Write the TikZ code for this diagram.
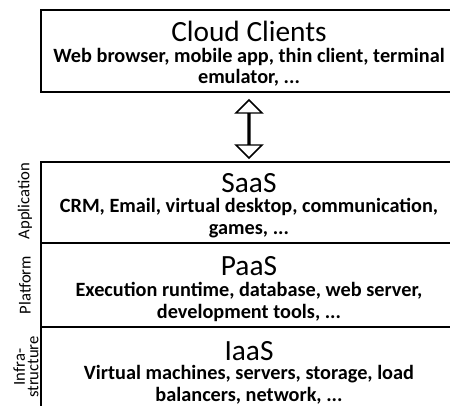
\documentclass[tikz,border=0pt]{standalone}
\usepackage{fontspec}
\setmainfont{Carlito}
\usetikzlibrary{shapes.arrows, positioning}

\begin{document}
\begin{tikzpicture}[x=0.75pt, y=-0.75pt,
    layer/.style={rectangle, draw, line width=1.5pt, minimum width=312pt, inner sep=0pt},
    title/.style={font=\fontsize{22}{26}\selectfont, anchor=base, inner sep=0pt},
    desc/.style={font=\fontsize{15.2}{16.2}\selectfont\bfseries, align=center, anchor=base, inner sep=0pt},
    side/.style={font=\fontsize{12.5}{10}\selectfont, rotate=90, align=center},
    dblarrow/.style={double arrow, draw, line width=1.1pt, rotate=90, minimum height=43.5pt,
        minimum width=19.5pt, double arrow head extend=6.75pt, inner sep=0pt}
]
    \useasboundingbox (0,0) rectangle (450,406);
    \node[layer, minimum height=61.5pt] (clients) at (249,51) {};
    \node[title] (clientstitle) at (249,42) {Cloud Clients};
    \node[desc] (clientsdesc) at (249,84) {Web browser, mobile app, thin client, terminal\\emulator, ...};

    \node[layer, minimum height=60.75pt] (saas) at (249,202.5) {};
    \node[title] (saastitle) at (249,193) {SaaS};
    \node[desc] (saasdesc) at (249,234) {CRM, Email, virtual desktop, communication,\\games, ...};

    \node[layer, minimum height=63pt] (paas) at (249,285) {};
    \node[title] (paastitle) at (249,276) {PaaS};
    \node[desc] (paasdesc) at (249,318) {Execution runtime, database, web server,\\development tools, ...};

    \node[layer, minimum height=69.75pt] (iaas) at (249,373.5) {};
    \node[title] (iaastitle) at (249,360) {IaaS};
    \node[desc] (iaasdesc) at (249,401) {Virtual machines, servers, storage, load\\balancers, network, ...};

    \node[side] (app) at (25,201) {Application};
    \node[side] (plat) at (25,285) {Platform};
    \node[side] (infra) at (26,367) {Infra-\\structure};

    \path (clients.south) -- (saas.north) node[midway, dblarrow, xshift=-1.5pt] (link) {};
\end{tikzpicture}
\end{document}
